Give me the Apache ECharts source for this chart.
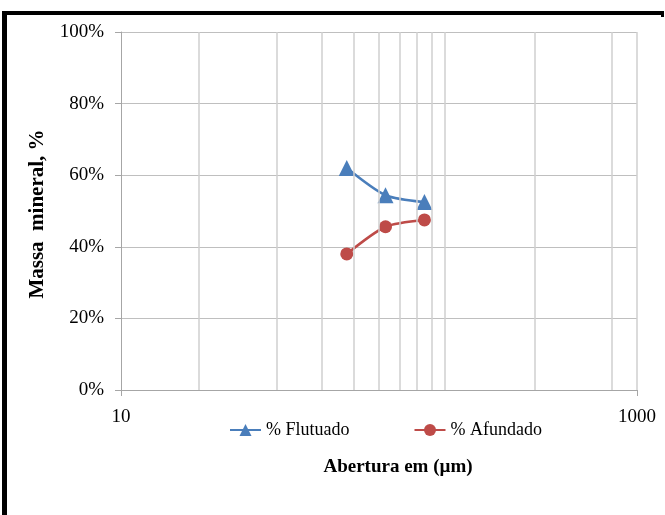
<!DOCTYPE html>
<html>
<head>
<meta charset="utf-8">
<script src="https://cdn.jsdelivr.net/npm/echarts@6/dist/echarts.min.js"></script>
<style>html,body{margin:0;padding:0;background:#fff;}#c{width:665px;height:515px;}</style>
</head>
<body>
<div id="c"></div>
<script>
const aberturas = [75, 106, 150];
const flutuado = [62, 54.4, 52.5];
const afundado = [38, 45.6, 47.5];
const gradeX = [20, 40, 60, 80, 100, 120, 140, 160, 180, 400, 800, 1000];
const rotulosX = [10, 1000];
const nomes = ['% Flutuado', '% Afundado'];
const tituloX = 'Abertura em (µm)';
const tituloY = 'Massa  mineral, %';

const FONT = '"Liberation Serif", "Times New Roman", serif';
const chart = echarts.init(document.getElementById('c'), null, {renderer: 'canvas'});

chart.setOption({
  animation: false,
  backgroundColor: '#fff',
  grid: {left: 121, right: 28, top: 32, bottom: 125, containLabel: false},
  xAxis: [{
    type: 'log', logBase: 10, min: 10, max: 1000,
    axisLine: {show: true, lineStyle: {color: '#a6a6a6', width: 1}},
    axisTick: {show: false},
    splitLine: {show: false},
    axisLabel: {
      margin: 18, color: '#000', fontFamily: FONT, fontSize: 19,
      formatter: v => rotulosX.indexOf(Math.round(v)) >= 0 ? String(Math.round(v)) : ''
    }
  }, {
    type: 'value', min: 0, max: 1, interval: 1, position: 'bottom',
    axisLine: {show: false},
    axisTick: {show: true, length: 6, lineStyle: {color: '#a6a6a6'}},
    axisLabel: {show: false},
    splitLine: {show: false}
  }],
  yAxis: {
    type: 'value', min: 0, max: 100, interval: 20,
    axisLine: {show: true, lineStyle: {color: '#a6a6a6', width: 1}},
    axisTick: {show: true, length: 6, lineStyle: {color: '#a6a6a6'}},
    splitLine: {show: true, lineStyle: {color: '#bfbfbf', width: 1}},
    axisLabel: {margin: 17, color: '#000', fontFamily: FONT, fontSize: 19, formatter: '{value}%'}
  },
  legend: {
    data: nomes,
    left: 229, top: 421, padding: 0,
    itemWidth: 31, itemHeight: 15, itemGap: 64,
    textStyle: {fontFamily: FONT, fontSize: 18, color: '#000'}
  },
  graphic: [
    {type: 'rect', shape: {x: 2, y: 11, width: 661, height: 4}, style: {fill: '#000'}},
    {type: 'rect', shape: {x: 661, y: 11, width: 3, height: 6}, style: {fill: '#000'}},
    {type: 'rect', shape: {x: 2, y: 11, width: 5, height: 504}, style: {fill: '#000'}},
    {type: 'text', x: 398, y: 467, style: {text: tituloX, font: 'bold 19px ' + FONT, fill: '#000', textAlign: 'center', textVerticalAlign: 'middle'}},
    {type: 'text', x: 38, y: 214, rotation: Math.PI / 2, style: {text: tituloY, font: 'bold 21px ' + FONT, fill: '#000', textAlign: 'center', textVerticalAlign: 'middle'}}
  ],
  series: [
    {
      name: 'grade', type: 'line', data: [], z: 1, silent: true,
      markLine: {
        silent: true, symbol: 'none', label: {show: false},
        lineStyle: {color: '#cfcfcf', width: 1.5, type: 'solid'},
        data: gradeX.map(v => ({xAxis: v}))
      }
    },
    {
      name: nomes[0], type: 'line', smooth: 0.25,
      data: aberturas.map((x, i) => [x, flutuado[i]]),
      symbol: 'triangle', symbolSize: 16,
      lineStyle: {color: '#4a7ebb', width: 2.5},
      itemStyle: {color: '#4a7ebb'}, z: 3
    },
    {
      name: nomes[1], type: 'line', smooth: 0.25,
      data: aberturas.map((x, i) => [x, afundado[i]]),
      symbol: 'circle', symbolSize: 13,
      lineStyle: {color: '#be4b48', width: 2.5},
      itemStyle: {color: '#be4b48'}, z: 3
    }
  ]
});
</script>
</body>
</html>
